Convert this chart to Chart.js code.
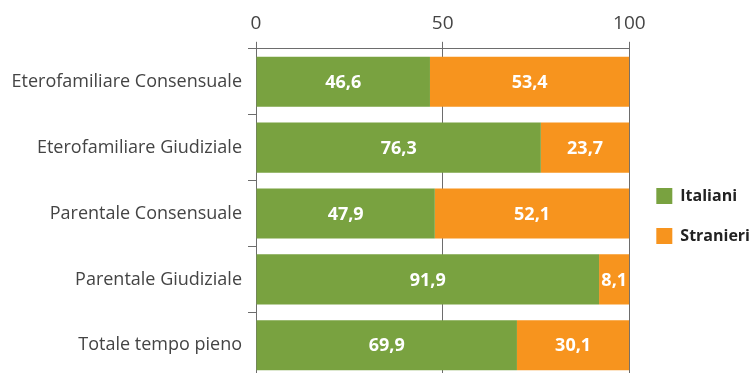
<!DOCTYPE html>
<html>
<head>
<meta charset="utf-8">
<script src="https://cdn.jsdelivr.net/npm/chart.js@4.4.1/dist/chart.umd.min.js"></script>
<style>
html,body{margin:0;padding:0;background:#fff;overflow:hidden;}
#wrap{position:absolute;left:0;top:0;width:756px;height:395px;}
</style>
</head>
<body>
<div id="wrap"><canvas id="c" width="756" height="395"></canvas></div>
<script>
const categories = [
  "Eterofamiliare Consensuale",
  "Eterofamiliare Giudiziale",
  "Parentale Consensuale",
  "Parentale Giudiziale",
  "Totale tempo pieno"
];
const italiani = [46.6, 76.3, 47.9, 91.9, 69.9];
const stranieri = [53.4, 23.7, 52.1, 8.1, 30.1];
const seriesNames = ["Italiani", "Stranieri"];
const xTicks = [0, 50, 100];

const GREEN = "#79a240";
const ORANGE = "#f7941e";
const FONT = "'Open Sans', 'Noto Sans', sans-serif";

const valueLabels = {
  id: "valueLabels",
  afterDatasetsDraw(chart) {
    const ctx = chart.ctx;
    ctx.save();
    ctx.fillStyle = "#ffffff";
    ctx.font = "bold 18px " + FONT;
    ctx.textAlign = "center";
    ctx.textBaseline = "middle";
    chart.data.datasets.forEach((ds, di) => {
      const meta = chart.getDatasetMeta(di);
      meta.data.forEach((el, i) => {
        const v = ds.data[i];
        const cx = (el.x + el.base) / 2;
        ctx.fillText(v.toFixed(1).replace(".", ","), cx, el.y + 1);
      });
    });
    ctx.restore();
  }
};

const legendShift = {
  id: "legendShift",
  afterLayout(chart) {
    const lg = chart.legend;
    if (!lg) return;
    lg.left += 3; lg.right += 3;
    lg.top += 16; lg.bottom += 16;
  }
};

new Chart(document.getElementById("c"), {
  type: "bar",
  data: {
    labels: categories,
    datasets: [
      { label: seriesNames[0], data: italiani, backgroundColor: GREEN, borderWidth: 0,
        barPercentage: 0.76, categoryPercentage: 1.0 },
      { label: seriesNames[1], data: stranieri, backgroundColor: ORANGE, borderWidth: 0,
        barPercentage: 0.76, categoryPercentage: 1.0 }
    ]
  },
  options: {
    indexAxis: "y",
    responsive: false,
    animation: false,
    layout: { padding: { left: 8, right: -1, top: 5, bottom: 0 } },
    plugins: {
      tooltip: { enabled: false },
      legend: {
        position: "right",
        align: "center",
        labels: {
          boxWidth: 16, boxHeight: 16, padding: 24,
          color: "#222",
          font: { family: FONT, size: 16, weight: "bold" }
        }
      }
    },
    scales: {
      x: {
        position: "top",
        stacked: true,
        min: 0, max: 100,
        afterBuildTicks(scale) { scale.ticks = xTicks.map(v => ({ value: v })); },
        ticks: { color: "#444", font: { family: FONT, size: 19 }, padding: 7 },
        grid: { color: "#6d6d6d", lineWidth: 1, tickLength: 7, drawOnChartArea: true },
        border: { display: true, color: "#6d6d6d", width: 1 }
      },
      y: {
        stacked: true,
        afterFit(scale) { scale.width = 248; },
        ticks: { color: "#444", font: { family: FONT, size: 18 }, padding: 6 },
        grid: { offset: true, drawOnChartArea: false, tickLength: 8, color: "#6d6d6d" },
        border: { display: true, color: "#6d6d6d", width: 1 }
      }
    }
  },
  plugins: [valueLabels, legendShift]
});
</script>
</body>
</html>
